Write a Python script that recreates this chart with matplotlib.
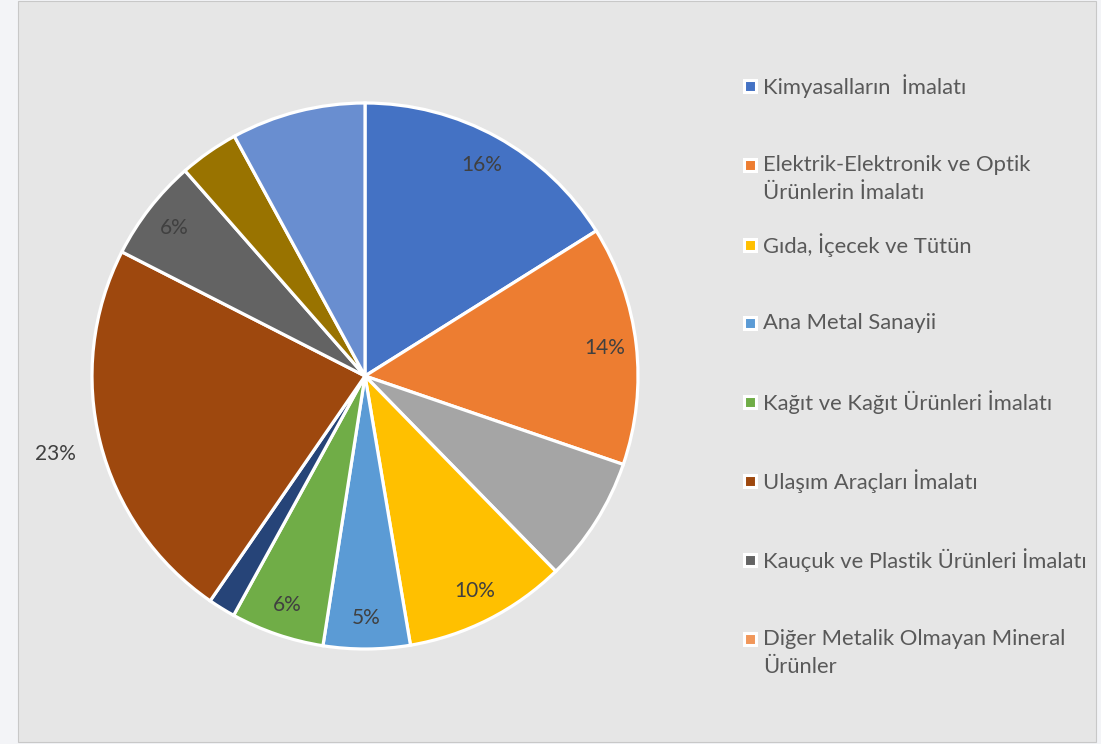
import matplotlib
matplotlib.use("Agg")
import matplotlib.pyplot as plt
from matplotlib.patches import Rectangle
import numpy as np

# slice shares (read clockwise from 12 o'clock)
shares = [16.0, 14.1, 7.4, 9.6, 5.1, 5.5, 1.6, 22.8, 6.0, 3.5, 7.9]
slice_colors = ['#4472C4', '#ED7D31', '#A5A5A5', '#FFC000', '#5B9BD5', '#70AD47',
                '#264478', '#9E480E', '#636363', '#997300', '#698ED0']
# percent labels shown on the chart ('' = none)
pct_labels = ['16%', '14%', '', '10%', '5%', '6%', '', '23%', '6%', '', '']

legend_names = ['Kimyasalların  İmalatı',
                'Elektrik-Elektronik ve Optik\nÜrünlerin İmalatı',
                'Gıda, İçecek ve Tütün',
                'Ana Metal Sanayii',
                'Kağıt ve Kağıt Ürünleri İmalatı',
                'Ulaşım Araçları İmalatı',
                'Kauçuk ve Plastik Ürünleri İmalatı',
                'Diğer Metalik Olmayan Mineral\nÜrünler']
legend_colors = ['#4472C4', '#ED7D31', '#FFC000', '#5B9BD5', '#70AD47',
                 '#9E480E', '#636363', '#F1975A']

plt.rcParams['font.family'] = ['Lato', 'DejaVu Sans']

W, H = 1101, 744
fig = plt.figure(figsize=(W / 100, H / 100), dpi=100, facecolor='#F3F4F7')

# chart area panel
fig.patches.append(Rectangle((18 / W, 2 / H), 1078 / W, 741 / H, transform=fig.transFigure,
                             facecolor='#E6E6E6', edgecolor='#C8C8C8', lw=0.8, zorder=-5))

cx, cy, r = 365, 376, 273
ax = fig.add_axes([(cx - r) / W, (H - cy - r) / H, 2 * r / W, 2 * r / H])
ax.set_zorder(2)
ax.set_facecolor('none')
wedges, _ = ax.pie(shares, colors=slice_colors, startangle=90, counterclock=False,
                   radius=1, wedgeprops=dict(edgecolor='white', linewidth=2.3))
ax.set_xlim(-1, 1)
ax.set_ylim(-1, 1)
ax.set_aspect('equal')
ax.axis('off')

for w, lab in zip(wedges, pct_labels):
    if not lab:
        continue
    mid = np.deg2rad((w.theta1 + w.theta2) / 2)
    rr = 1.17 if lab == '23%' else 0.885
    ax.text(rr * np.cos(mid), rr * np.sin(mid), lab, ha='center', va='center',
            fontsize=15, color='#404040')

# legend drawn by hand (Excel style slots)
ys = [86, 165, 245, 323, 402, 481, 560, 639]
for name, col, y in zip(legend_names, legend_colors, ys):
    fig.patches.append(Rectangle((744 / W, (H - y - 6) / H), 12 / W, 12 / H,
                                 transform=fig.transFigure, facecolor=col,
                                 edgecolor='white', lw=2.2, zorder=3))
    for i, line in enumerate(name.split('\n')):
        fig.text(763 / W, (H - y - i * 28) / H, line, ha='left', va='center',
                 fontsize=15.8, color='#595959')

fig.savefig('out.png', dpi=100, facecolor=fig.get_facecolor())
